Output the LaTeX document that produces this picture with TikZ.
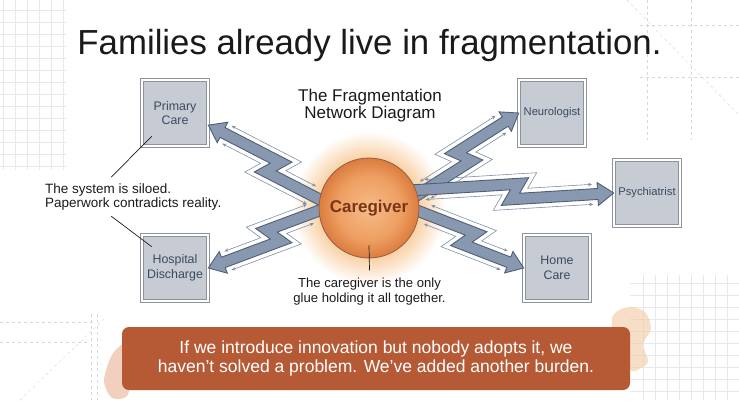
\documentclass[tikz,border=0pt]{standalone}
\usepackage{fontspec}
\setmainfont{Liberation Sans}
\usetikzlibrary{arrows.meta,calc}
\definecolor{ink}{HTML}{1A1A1A}
\definecolor{slate}{HTML}{3A4A5E}
\definecolor{boxfill}{HTML}{C7CCD4}
\definecolor{boxline}{HTML}{8C939C}
\definecolor{boltfill}{HTML}{8798B0}
\definecolor{boltline}{HTML}{4F5F75}
\definecolor{wirec}{HTML}{7F90A6}
\definecolor{clay}{HTML}{B65A36}
\definecolor{rust}{HTML}{7B3416}
\definecolor{gridc}{HTML}{E6E9EC}
\definecolor{guidec}{HTML}{D3D8DD}
\definecolor{peach}{HTML}{F3C9A0}
\definecolor{ember}{HTML}{E08A62}
\definecolor{glowc}{HTML}{F8D0A4}
\definecolor{cgin}{HTML}{F6BC88}
\definecolor{cgmid}{HTML}{EE9F62}
\definecolor{cgout}{HTML}{DB7C3E}
\pgfdeclareradialshading{cgglow}{\pgfpoint{0bp}{0bp}}{color(0bp)=(glowc); color(15.5bp)=(glowc); color(24bp)=(white); color(50bp)=(white)}
\pgfdeclareradialshading{cgball}{\pgfpoint{0bp}{0bp}}{color(0bp)=(cgin); color(16bp)=(cgmid); color(25bp)=(cgout); color(50bp)=(cgout)}

\begin{document}
\begin{tikzpicture}[
  x=1pt,y=-1pt,
  gridline/.style={draw=gridc,line width=0.5pt},
  guide/.style={draw=guidec,dashed,line width=0.6pt},
  site/.style={draw=boxline,double=white,double distance=2pt,line width=0.6pt,
    fill=boxfill,minimum size=66pt,inner sep=2pt,align=center,text=slate,
    font=\fontsize{12.4}{14.5}\selectfont},
  hub/.style={circle,minimum size=100pt,inner sep=0pt,shade,shading=cgball,
    draw=rust!80,line width=0.8pt,text=rust,font=\bfseries\fontsize{17}{20}\selectfont},
  note/.style={inner sep=0pt,text=ink},
  pin/.style={draw=ink,line width=0.7pt},
  banner/.style={fill=clay,rounded corners=7pt,minimum width=508pt,minimum height=63pt,
    align=center,text=white,font=\fontsize{17.5}{19.5}\selectfont},
  along/.style={shift={(\p1)},rotate=\n1},
  bolt/.style 2 args={draw=boltline,fill=boltfill,line width=0.9pt,line join=miter,
    to path={let \p1=(\tikztostart),\p2=(\tikztotarget),
      \n1={atan2(\y2-\y1,\x2-\x1)},\n2={veclen(\x2-\x1,\y2-\y1)},
      \n3={#2*\n2},\n4={\n2-16} in
      ([along]0,{#1*(-20.5)}) -- ([along]\n3+19,{#1*(-20.5)})
      -- ([along]\n3+9,{#1*(-5.5)}) -- ([along]\n4,{#1*(-5.5)})
      -- ([along]\n4,{#1*(-11.5)}) -- ([along]\n2,0)
      -- ([along]\n4,{#1*11.5}) -- ([along]\n4,{#1*5.5})
      -- ([along]\n3-10,{#1*5.5}) -- ([along]\n3,{#1*(-9.5)})
      -- ([along]0,{#1*(-9.5)}) -- cycle}},
  wire/.style n args={3}{draw=wirec,line width=0.6pt,
    {Stealth[length=4pt,width=3.4pt]}-{Stealth[length=4pt,width=3.4pt]},
    to path={let \p1=(\tikztostart),\p2=(\tikztotarget),
      \n1={atan2(\y2-\y1,\x2-\x1)},\n2={veclen(\x2-\x1,\y2-\y1)},
      \n3={#2*\n2+9.5-17.9*(#3)},\n4={\n2-21} in
      ([along]57,{#1*(-15+10*(#3))}) -- ([along]\n3,{#1*(-15+10*(#3))})
      -- ([along]\n3-10,{#1*10*(#3)}) -- ([along]\n4,{#1*10*(#3)})}}
]
\useasboundingbox (0,0) rectangle (739,400);
\fill[white] (0,0) rectangle (739,400);

% faint paper grid and guides
\foreach \gx in {3,15,...,63} \draw[gridline] (\gx,0) -- (\gx,170);
\foreach \gy in {10,22,...,166} \draw[gridline] (0,\gy) -- (66,\gy);
\foreach \gx in {643,655,...,739} \draw[gridline] (\gx,275) -- (\gx,400);
\foreach \gy in {283,295,...,400} \draw[gridline] (630,\gy) -- (739,\gy);
\draw[guide] (647,0) -- (647,140) (691,0) -- (691,140) (640,25) -- (739,25) (640,77) -- (739,77);
\draw[guide,line width=0.4pt] (627,0) -- (739,115);
\draw[guide] (0,322) -- (95,322) (0,342) -- (90,342) (91,314) -- (91,400) (97,314) -- (97,400);
\draw[guide,line width=0.4pt] (20,400) -- (105,318);

\node[font=\fontsize{34.8}{40}\selectfont,text=ink,anchor=base] (title) at (369.5,54) {Families already live in fragmentation.};

\node[site] (pc) at (175,113) {Primary\\Care};
\node[site] (hd) at (175,268) {Hospital\\Discharge};
\node[site,font=\fontsize{11.2}{13}\selectfont] (nr) at (552,113) {Neurologist};
\node[site,font=\fontsize{11.2}{13}\selectfont] (ps) at (647,193) {Psychiatrist};
\node[site] (hc) at (557,268) {Home\\Care};

\coordinate (core) at (369,208);
\shade[shading=cgglow] (core) circle (80);
\foreach \tgt/\sg/\fr in {pc.-20/1/0.55,hd.east/-1/0.55,nr.west/-1/0.58,ps.west/1/0.58,hc.west/1/0.6}{
  \draw[bolt={\sg}{\fr}] (core) to (\tgt);
  \draw[wire={\sg}{\fr}{1}] (core) to (\tgt);
  \draw[wire={\sg}{\fr}{-1}] (core) to (\tgt);
}
\node[hub] (cg) at (core) {Caregiver};

\node[note,font=\fontsize{17}{17}\selectfont,align=center,anchor=north] (frag) at (370,89) {The Fragmentation\\Network Diagram};
\node[note,font=\fontsize{13.5}{14}\selectfont,align=left,anchor=north west] (silo) at (45,183.2) {The system is siloed.\\Paperwork contradicts reality.};
\node[note,font=\fontsize{13.1}{15}\selectfont,align=center,anchor=north] (glue) at (369.5,277.4) {The caregiver is the only\\glue holding it all together.};

\draw[pin] ($(silo.north)+(-22,-6)$) -- ($(pc.south west)+(10,-10)$);
\draw[pin] ($(silo.south)+(-22,6)$) -- ($(hd.north west)+(10,12)$);
\draw[pin] ($(cg.south)+(0,-13)$) -- ($(glue.north)+(0,-7)$);

% watercolour wash behind the message
\fill[peach,opacity=0.6] plot[smooth cycle] coordinates {(612,318) (628,307) (645,312) (651,328) (643,345) (648,362) (632,371) (618,356)};
\fill[ember,opacity=0.4] plot[smooth cycle] coordinates {(114,352) (126,342) (134,350) (132,374) (127,396) (112,398) (104,382) (108,364)};
\node[banner] (msg) at (376,358.5) {If we introduce innovation but nobody adopts it, we\\haven’t solved a problem. We’ve added another burden.};
\end{tikzpicture}
\end{document}
